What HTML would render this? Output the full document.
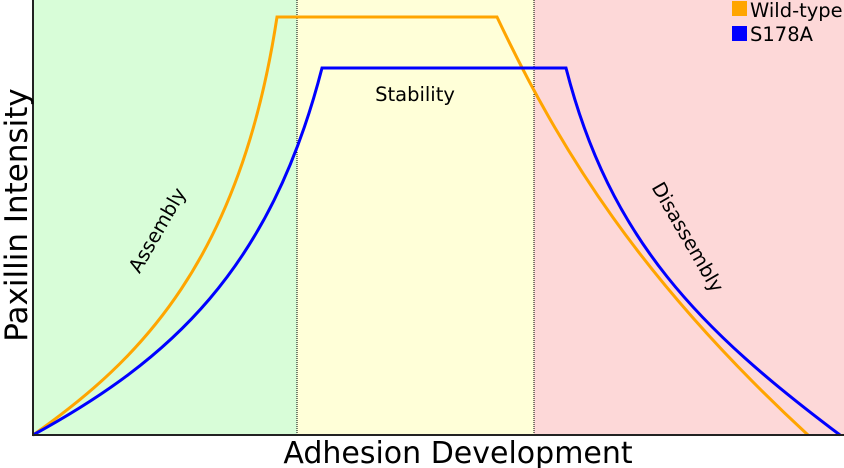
<!DOCTYPE html>
<html><head><meta charset="utf-8"><style>html,body{margin:0;padding:0;background:#fff}svg{display:block}</style></head>
<body>
<svg width="844" height="468" xmlns="http://www.w3.org/2000/svg" font-family="DejaVu Sans, Liberation Sans, sans-serif">
<rect x="33" y="0" width="264" height="435" fill="#d8fdd8"/>
<rect x="297" y="0" width="237" height="435" fill="#ffffd8"/>
<rect x="534" y="0" width="310" height="435" fill="#fdd8d8"/>
<line x1="297" y1="0" x2="297" y2="435" stroke="#000" stroke-width="1" stroke-dasharray="1,1"/>
<line x1="534" y1="0" x2="534" y2="435" stroke="#000" stroke-width="1" stroke-dasharray="1,1"/>
<path d="M33,435 C140,360 240,260 277,17 L497,17 C560,150 640,280 808,435" fill="none" stroke="#ffa500" stroke-width="3"/>
<path d="M33,435 C170,360 270,270 322,68 L566,68 C610,240 700,330 840,435" fill="none" stroke="#0000ff" stroke-width="3"/>
<line x1="33" y1="0" x2="33" y2="436" stroke="#222" stroke-width="2"/>
<line x1="32" y1="435" x2="844" y2="435" stroke="#222" stroke-width="2"/>
<rect x="732" y="1" width="15" height="15" fill="#ffa500"/>
<rect x="732" y="26" width="15" height="15" fill="#0000ff"/>
<text x="750" y="17" font-size="19.5">Wild-type</text>
<text x="750" y="41" font-size="19.5">S178A</text>
<text x="415" y="101" font-size="19.5" text-anchor="middle">Stability</text>
<text transform="translate(157,230) rotate(-60)" font-size="19.5" text-anchor="middle" dy="7">Assembly</text>
<text transform="translate(688,237) rotate(60)" font-size="19.5" text-anchor="middle" dy="7">Disassembly</text>
<text x="458" y="463" font-size="30" text-anchor="middle">Adhesion Development</text>
<text transform="translate(27,215) rotate(-90)" font-size="31" text-anchor="middle">Paxillin Intensity</text>
</svg>
</body></html>
